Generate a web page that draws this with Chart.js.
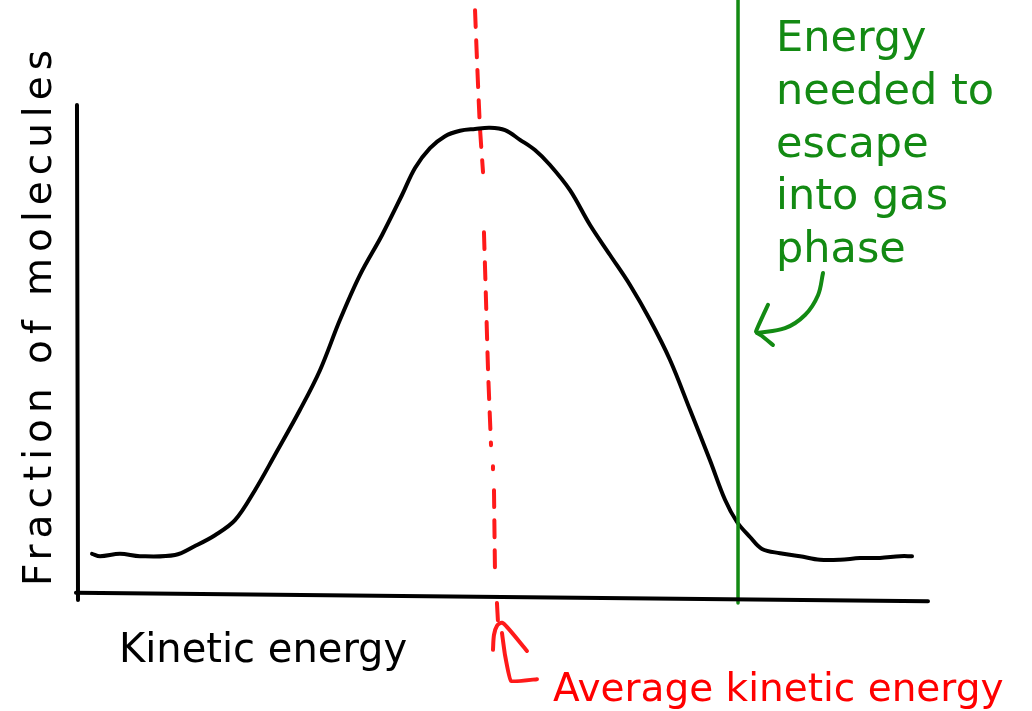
<!DOCTYPE html>
<html>
<head>
<meta charset="utf-8">
<script src="https://cdn.jsdelivr.net/npm/chart.js@4"></script>
<style>
	body { margin: 0; background: #fff; }
	#wrap { position: relative; width: 1032px; height: 711px; overflow: hidden; }
	#sketch { position: absolute; left: 0; top: 0; }
	.lbl { position: absolute; font-family: "DejaVu Sans", Lato, sans-serif; font-weight: 400; white-space: nowrap; }
	#xTitle { left: 119px; top: 628px; font-size: 40px; line-height: 40px; color: #000; }
	#avgLabel { left: 553px; top: 668px; font-size: 39px; line-height: 39px; color: #ff0000; }
	#escLabel { left: 776px; top: 10px; font-size: 43px; line-height: 52.75px; color: #138a13; }
	#yTitle { left: -262px; top: 295px; width: 600px; text-align: center; font-size: 39px; line-height: 40px; letter-spacing: 6px; color: #000; transform: rotate(-90deg); }
</style>
</head>
<body>
<div id="wrap">
	<canvas id="sketch" width="1032" height="711"></canvas>
	<div class="lbl" id="yTitle">Fraction of molecules</div>
	<div class="lbl" id="xTitle">Kinetic energy</div>
	<div class="lbl" id="avgLabel">Average kinetic energy</div>
	<div class="lbl" id="escLabel">Energy<br>needed to<br>escape<br>into gas<br>phase</div>
</div>
<script>
// kinetic energy (0-10) and fraction of molecules (0-1)
var curveEnergy = [0.165, 0.259, 0.494, 0.729, 1.141, 1.376, 1.612, 1.847, 2.082, 2.318, 2.612, 2.847, 3.082, 3.318, 3.576, 3.812, 3.965, 4.141, 4.318, 4.494, 4.671, 4.847, 5.024, 5.2, 5.376, 5.553, 5.788, 6.024, 6.259, 6.494, 6.729, 6.965, 7.2, 7.435, 7.612, 7.753, 7.906, 8.047, 8.259, 8.494, 8.729, 8.965, 9.2, 9.435, 9.671, 9.812];
var curveFraction = [0.077, 0.073, 0.077, 0.073, 0.075, 0.09, 0.108, 0.133, 0.183, 0.242, 0.317, 0.383, 0.467, 0.542, 0.608, 0.675, 0.72, 0.753, 0.773, 0.782, 0.785, 0.787, 0.783, 0.767, 0.75, 0.725, 0.683, 0.625, 0.575, 0.525, 0.467, 0.4, 0.317, 0.233, 0.167, 0.13, 0.105, 0.085, 0.078, 0.073, 0.067, 0.067, 0.07, 0.07, 0.073, 0.073];

// hand drawn axes
var yAxisEnergy = [-0.012, 0];
var yAxisFraction = [0.825, 0.0];
var xAxisEnergy = [-0.024, 10];
var xAxisFraction = [0.012, -0.002];

// average kinetic energy marker (wobbly dashed line, null = pen lifted)
var avgEnergy = [4.671, 4.694, 4.729, 4.765, null, 4.776, 4.8, 4.824, 4.859, null, 4.882, 4.882, null, 4.894, 4.906, null, 4.929, 4.941];
var avgFraction = [0.983, 0.9, 0.787, 0.713, null, 0.613, 0.5, 0.383, 0.258, null, 0.223, 0.218, null, 0.183, 0.042, null, -0.005, -0.037];

// red arrow pointing up at the marker
var redHeadEnergy = [4.882, 4.894, 4.929, 4.988, 5.059, 5.282];
var redHeadFraction = [-0.083, -0.058, -0.043, -0.038, -0.047, -0.085];
var redTailEnergy = [4.988, 5.024, 5.094, 5.4];
var redTailFraction = [-0.055, -0.092, -0.135, -0.132];

// energy needed to escape
var escEnergy = [7.765, 7.765];
var escFraction = [1.0, -0.005];

// green curved arrow
var greenTailEnergy = [8.765, 8.706, 8.553, 8.318, 7.988];
var greenTailFraction = [0.545, 0.508, 0.475, 0.453, 0.445];
var greenHeadEnergy = [8.118, 7.976, 8.047, 8.176];
var greenHeadFraction = [0.492, 0.447, 0.44, 0.425];

var RED = '#ff1a1a';
var GREEN = '#138a13';

function toPoints(xs, ys) {
	var pts = [];
	for (var i = 0; i < xs.length; i++) {
		pts.push(xs[i] === null ? { x: null, y: null } : { x: xs[i], y: ys[i] });
	}
	return pts;
}

function stroke(xs, ys, color, width, tension, dash) {
	return {
		data: toPoints(xs, ys),
		borderColor: color,
		borderWidth: width,
		tension: tension,
		borderDash: dash || [],
		borderCapStyle: 'round',
		borderJoinStyle: 'round',
		pointRadius: 0,
		fill: false,
		spanGaps: false,
		clip: false
	};
}

function buildSketch() {
	var ctx = document.getElementById('sketch').getContext('2d');
	new Chart(ctx, {
		type: 'line',
		data: {
			datasets: [
				stroke(yAxisEnergy, yAxisFraction, '#000', 4, 0),
				stroke(xAxisEnergy, xAxisFraction, '#000', 4, 0),
				stroke(escEnergy, escFraction, GREEN, 3.5, 0),
				stroke(curveEnergy, curveFraction, '#000', 4, 0.35),
				stroke(avgEnergy, avgFraction, RED, 4, 0.2, [17, 13]),
				stroke(redHeadEnergy, redHeadFraction, RED, 4, 0.3),
				stroke(redTailEnergy, redTailFraction, RED, 4, 0.1),
				stroke(greenTailEnergy, greenTailFraction, GREEN, 4, 0.35),
				stroke(greenHeadEnergy, greenHeadFraction, GREEN, 4, 0.1)
			]
		},
		options: {
			responsive: false,
			animation: false,
			layout: { padding: { left: 78, right: 104, top: 0, bottom: 111 } },
			plugins: {
				legend: { display: false },
				tooltip: { enabled: false }
			},
			scales: {
				x: { type: 'linear', min: 0, max: 10, display: false },
				y: { type: 'linear', min: 0, max: 1, display: false }
			}
		}
	});
}

buildSketch();
</script>
</body>
</html>
